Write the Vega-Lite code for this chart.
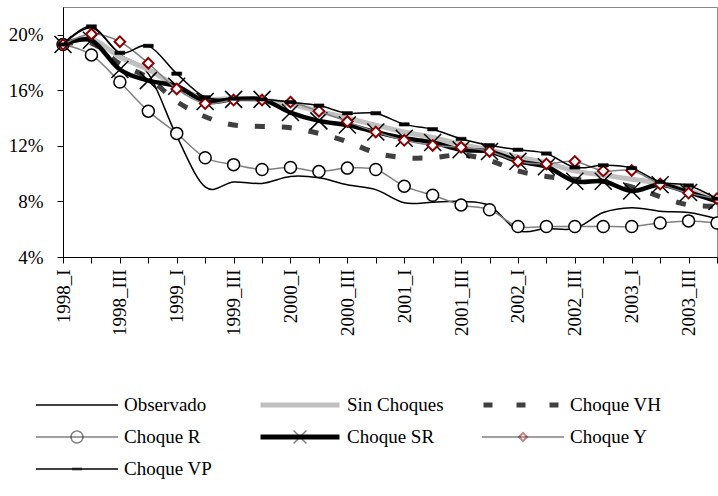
{
  "$schema": "https://vega.github.io/schema/vega-lite/v6.json",
  "width": 654,
  "height": 250,
  "autosize": {"type": "none"},
  "padding": {"left": 63, "top": 7, "right": 1, "bottom": 239},
  "config": {
    "view": {"stroke": "#888888", "strokeWidth": 1},
    "font": "Liberation Serif",
    "legend": {
      "title": null, "orient": "none", "direction": "horizontal", "legendX": -28, "legendY": 388,
      "columns": 3, "gridAlign": "all", "columnPadding": 37, "rowPadding": 12, "clipHeight": 20, "padding": 0,
      "symbolOffset": 0, "labelOffset": 5, "labelFont": "Liberation Serif",
      "labelFontSize": 19, "labelColor": "#000000", "labelLimit": 300
    }
  },
  "datasets": {
    "rows": [
      {"q":"1998_I","s":"Observado","v":19.3},{"q":"1998_II","s":"Observado","v":20.5},{"q":"1998_III","s":"Observado","v":18.6},{"q":"1998_IV","s":"Observado","v":17.2},
      {"q":"1999_I","s":"Observado","v":12.7},{"q":"1999_II","s":"Observado","v":9.05},{"q":"1999_III","s":"Observado","v":9.4},{"q":"1999_IV","s":"Observado","v":9.3},
      {"q":"2000_I","s":"Observado","v":9.8},{"q":"2000_II","s":"Observado","v":9.7},{"q":"2000_III","s":"Observado","v":9.2},{"q":"2000_IV","s":"Observado","v":8.85},
      {"q":"2001_I","s":"Observado","v":7.9},{"q":"2001_II","s":"Observado","v":7.95},{"q":"2001_III","s":"Observado","v":8.0},{"q":"2001_IV","s":"Observado","v":7.7},
      {"q":"2002_I","s":"Observado","v":5.9},{"q":"2002_II","s":"Observado","v":6.05},{"q":"2002_III","s":"Observado","v":6.05},{"q":"2002_IV","s":"Observado","v":7.2},
      {"q":"2003_I","s":"Observado","v":7.55},{"q":"2003_II","s":"Observado","v":7.3},{"q":"2003_III","s":"Observado","v":7.2},{"q":"2003_IV","s":"Observado","v":6.75},

      {"q":"1998_I","s":"Sin Choques","v":19.3},{"q":"1998_II","s":"Sin Choques","v":19.7},{"q":"1998_III","s":"Sin Choques","v":18.4},{"q":"1998_IV","s":"Sin Choques","v":17.5},
      {"q":"1999_I","s":"Sin Choques","v":16.3},{"q":"1999_II","s":"Sin Choques","v":15.4},{"q":"1999_III","s":"Sin Choques","v":15.4},{"q":"1999_IV","s":"Sin Choques","v":15.3},
      {"q":"2000_I","s":"Sin Choques","v":15.0},{"q":"2000_II","s":"Sin Choques","v":14.5},{"q":"2000_III","s":"Sin Choques","v":14.0},{"q":"2000_IV","s":"Sin Choques","v":13.5},
      {"q":"2001_I","s":"Sin Choques","v":13.0},{"q":"2001_II","s":"Sin Choques","v":12.6},{"q":"2001_III","s":"Sin Choques","v":12.1},{"q":"2001_IV","s":"Sin Choques","v":11.7},
      {"q":"2002_I","s":"Sin Choques","v":11.2},{"q":"2002_II","s":"Sin Choques","v":10.8},{"q":"2002_III","s":"Sin Choques","v":10.2},{"q":"2002_IV","s":"Sin Choques","v":9.9},
      {"q":"2003_I","s":"Sin Choques","v":9.6},{"q":"2003_II","s":"Sin Choques","v":9.3},{"q":"2003_III","s":"Sin Choques","v":8.8},{"q":"2003_IV","s":"Sin Choques","v":8.1},

      {"q":"1998_I","s":"Choque VH","v":19.3},{"q":"1998_II","s":"Choque VH","v":19.4},{"q":"1998_III","s":"Choque VH","v":17.9},{"q":"1998_IV","s":"Choque VH","v":16.9},
      {"q":"1999_I","s":"Choque VH","v":15.2},{"q":"1999_II","s":"Choque VH","v":14.1},{"q":"1999_III","s":"Choque VH","v":13.5},{"q":"1999_IV","s":"Choque VH","v":13.4},
      {"q":"2000_I","s":"Choque VH","v":13.3},{"q":"2000_II","s":"Choque VH","v":12.9},{"q":"2000_III","s":"Choque VH","v":12.3},{"q":"2000_IV","s":"Choque VH","v":11.5},
      {"q":"2001_I","s":"Choque VH","v":11.15},{"q":"2001_II","s":"Choque VH","v":11.15},{"q":"2001_III","s":"Choque VH","v":11.35},{"q":"2001_IV","s":"Choque VH","v":10.95},
      {"q":"2002_I","s":"Choque VH","v":10.2},{"q":"2002_II","s":"Choque VH","v":9.8},{"q":"2002_III","s":"Choque VH","v":9.6},{"q":"2002_IV","s":"Choque VH","v":9.45},
      {"q":"2003_I","s":"Choque VH","v":9.05},{"q":"2003_II","s":"Choque VH","v":8.35},{"q":"2003_III","s":"Choque VH","v":7.75},{"q":"2003_IV","s":"Choque VH","v":7.65},

      {"q":"1998_I","s":"Choque R","v":19.3},{"q":"1998_II","s":"Choque R","v":18.55},{"q":"1998_III","s":"Choque R","v":16.6},{"q":"1998_IV","s":"Choque R","v":14.5},
      {"q":"1999_I","s":"Choque R","v":12.9},{"q":"1999_II","s":"Choque R","v":11.15},{"q":"1999_III","s":"Choque R","v":10.65},{"q":"1999_IV","s":"Choque R","v":10.3},
      {"q":"2000_I","s":"Choque R","v":10.45},{"q":"2000_II","s":"Choque R","v":10.15},{"q":"2000_III","s":"Choque R","v":10.4},{"q":"2000_IV","s":"Choque R","v":10.3},
      {"q":"2001_I","s":"Choque R","v":9.1},{"q":"2001_II","s":"Choque R","v":8.45},{"q":"2001_III","s":"Choque R","v":7.75},{"q":"2001_IV","s":"Choque R","v":7.4},
      {"q":"2002_I","s":"Choque R","v":6.2},{"q":"2002_II","s":"Choque R","v":6.2},{"q":"2002_III","s":"Choque R","v":6.2},{"q":"2002_IV","s":"Choque R","v":6.2},
      {"q":"2003_I","s":"Choque R","v":6.2},{"q":"2003_II","s":"Choque R","v":6.45},{"q":"2003_III","s":"Choque R","v":6.6},{"q":"2003_IV","s":"Choque R","v":6.45},

      {"q":"1998_I","s":"Choque SR","v":19.3},{"q":"1998_II","s":"Choque SR","v":19.6},{"q":"1998_III","s":"Choque SR","v":17.5},{"q":"1998_IV","s":"Choque SR","v":16.7},
      {"q":"1999_I","s":"Choque SR","v":16.3},{"q":"1999_II","s":"Choque SR","v":15.2},{"q":"1999_III","s":"Choque SR","v":15.35},{"q":"1999_IV","s":"Choque SR","v":15.35},
      {"q":"2000_I","s":"Choque SR","v":14.4},{"q":"2000_II","s":"Choque SR","v":13.8},{"q":"2000_III","s":"Choque SR","v":13.5},{"q":"2000_IV","s":"Choque SR","v":13.0},
      {"q":"2001_I","s":"Choque SR","v":12.55},{"q":"2001_II","s":"Choque SR","v":12.25},{"q":"2001_III","s":"Choque SR","v":11.72},{"q":"2001_IV","s":"Choque SR","v":11.6},
      {"q":"2002_I","s":"Choque SR","v":10.9},{"q":"2002_II","s":"Choque SR","v":10.5},{"q":"2002_III","s":"Choque SR","v":9.45},{"q":"2002_IV","s":"Choque SR","v":9.45},
      {"q":"2003_I","s":"Choque SR","v":8.75},{"q":"2003_II","s":"Choque SR","v":9.2},{"q":"2003_III","s":"Choque SR","v":8.65},{"q":"2003_IV","s":"Choque SR","v":8.0},

      {"q":"1998_I","s":"Choque Y","v":19.3},{"q":"1998_II","s":"Choque Y","v":20.05},{"q":"1998_III","s":"Choque Y","v":19.5},{"q":"1998_IV","s":"Choque Y","v":17.95},
      {"q":"1999_I","s":"Choque Y","v":16.1},{"q":"1999_II","s":"Choque Y","v":15.05},{"q":"1999_III","s":"Choque Y","v":15.3},{"q":"1999_IV","s":"Choque Y","v":15.3},
      {"q":"2000_I","s":"Choque Y","v":15.15},{"q":"2000_II","s":"Choque Y","v":14.5},{"q":"2000_III","s":"Choque Y","v":13.75},{"q":"2000_IV","s":"Choque Y","v":13.0},
      {"q":"2001_I","s":"Choque Y","v":12.4},{"q":"2001_II","s":"Choque Y","v":12.03},{"q":"2001_III","s":"Choque Y","v":11.9},{"q":"2001_IV","s":"Choque Y","v":11.6},
      {"q":"2002_I","s":"Choque Y","v":10.88},{"q":"2002_II","s":"Choque Y","v":10.7},{"q":"2002_III","s":"Choque Y","v":10.88},{"q":"2002_IV","s":"Choque Y","v":10.2},
      {"q":"2003_I","s":"Choque Y","v":10.23},{"q":"2003_II","s":"Choque Y","v":9.25},{"q":"2003_III","s":"Choque Y","v":8.6},{"q":"2003_IV","s":"Choque Y","v":8.2},

      {"q":"1998_I","s":"Choque VP","v":19.3},{"q":"1998_II","s":"Choque VP","v":20.6},{"q":"1998_III","s":"Choque VP","v":18.7},{"q":"1998_IV","s":"Choque VP","v":19.2},
      {"q":"1999_I","s":"Choque VP","v":17.2},{"q":"1999_II","s":"Choque VP","v":15.5},{"q":"1999_III","s":"Choque VP","v":15.4},{"q":"1999_IV","s":"Choque VP","v":15.35},
      {"q":"2000_I","s":"Choque VP","v":15.15},{"q":"2000_II","s":"Choque VP","v":14.9},{"q":"2000_III","s":"Choque VP","v":14.35},{"q":"2000_IV","s":"Choque VP","v":14.35},
      {"q":"2001_I","s":"Choque VP","v":13.55},{"q":"2001_II","s":"Choque VP","v":13.2},{"q":"2001_III","s":"Choque VP","v":12.5},{"q":"2001_IV","s":"Choque VP","v":12.05},
      {"q":"2002_I","s":"Choque VP","v":11.72},{"q":"2002_II","s":"Choque VP","v":11.45},{"q":"2002_III","s":"Choque VP","v":10.45},{"q":"2002_IV","s":"Choque VP","v":10.6},
      {"q":"2003_I","s":"Choque VP","v":10.4},{"q":"2003_II","s":"Choque VP","v":9.4},{"q":"2003_III","s":"Choque VP","v":9.15},{"q":"2003_IV","s":"Choque VP","v":8.2}
    ]
  },
  "data": {"name": "rows"},
  "encoding": {
    "x": {
      "field": "q", "type": "ordinal",
      "scale": {"type": "point", "padding": 0, "domain": ["1998_I","1998_II","1998_III","1998_IV","1999_I","1999_II","1999_III","1999_IV","2000_I","2000_II","2000_III","2000_IV","2001_I","2001_II","2001_III","2001_IV","2002_I","2002_II","2002_III","2002_IV","2003_I","2003_II","2003_III","2003_IV"]},
      "axis": {
        "title": null, "grid": false, "labelAngle": -90, "labelOverlap": false,
        "labelExpr": "test(/_(I|III)$/, datum.value) ? datum.value : ''",
        "labelFont": "Liberation Serif", "labelFontSize": 19, "labelColor": "#000000",
        "tickSize": 6, "tickColor": "#000000", "domainColor": "#000000", "labelPadding": 6,
        "encode": {"ticks": {"update": {"y": {"value": -6}}}}
      }
    },
    "y": {
      "field": "v", "type": "quantitative",
      "scale": {"domain": [4, 22], "nice": false, "zero": false},
      "axis": {
        "title": null, "grid": false, "values": [4, 8, 12, 16, 20],
        "labelExpr": "datum.value + '%'",
        "labelFont": "Liberation Serif", "labelFontSize": 19, "labelColor": "#000000",
        "tickSize": 6, "tickColor": "#000000", "domainColor": "#000000", "labelPadding": 14,
        "encode": {"ticks": {"update": {"x": {"value": 6}}}}
      }
    }
  },
  "layer": [
    {"transform": [{"filter": "datum.s === 'Observado'"}], "mark": {"type": "line", "color": "#000000", "strokeWidth": 1.5, "interpolate": "cardinal"}},
    {"transform": [{"filter": "datum.s === 'Sin Choques'"}], "mark": {"type": "line", "color": "#c0c0c0", "strokeWidth": 5, "interpolate": "cardinal"}},
    {"transform": [{"filter": "datum.s === 'Choque VH'"}], "mark": {"type": "line", "color": "#404040", "strokeWidth": 5, "strokeDash": [10, 17], "interpolate": "cardinal"}},
    {"transform": [{"filter": "datum.s === 'Choque R'"}], "mark": {"type": "line", "color": "#808080", "strokeWidth": 1.5, "interpolate": "cardinal"}},
    {"transform": [{"filter": "datum.s === 'Choque R'"}], "mark": {"type": "point", "shape": "M0.141,0A0.141,0.141,0,1,1,-0.141,0A0.141,0.141,0,1,1,0.141,0Z", "size": 7225, "filled": false, "fill": "#ffffff", "stroke": "#000000", "strokeWidth": 1.5, "opacity": 1}},
    {"transform": [{"filter": "datum.s === 'Choque SR'"}], "mark": {"type": "line", "color": "#000000", "strokeWidth": 4.5, "interpolate": "cardinal"}},
    {"transform": [{"filter": "datum.s === 'Choque SR'"}], "mark": {"type": "point", "shape": "M-0.2,-0.2L0.2,0.2M-0.2,0.2L0.2,-0.2", "size": 7225, "filled": false, "stroke": "#000000", "strokeWidth": 1.5, "opacity": 1}},
    {"transform": [{"filter": "datum.s === 'Choque Y'"}], "mark": {"type": "line", "color": "#808080", "strokeWidth": 1.5, "interpolate": "cardinal"}},
    {"transform": [{"filter": "datum.s === 'Choque Y'"}], "mark": {"type": "point", "shape": "M0,-0.125L0.125,0L0,0.125L-0.125,0Z", "size": 7225, "filled": false, "fill": "#ffffff", "stroke": "#8b0000", "strokeWidth": 2, "opacity": 1}},
    {"transform": [{"filter": "datum.s === 'Choque VP'"}], "mark": {"type": "line", "color": "#000000", "strokeWidth": 1.5, "interpolate": "cardinal"}},
    {"transform": [{"filter": "datum.s === 'Choque VP'"}], "mark": {"type": "point", "shape": "M-0.118,-0.04H0.118V0.04H-0.118Z", "size": 7225, "filled": true, "fill": "#000000", "stroke": "#000000", "strokeWidth": 0.5, "opacity": 1}},
    {
      "transform": [{"filter": "false"}],
      "mark": {"type": "line", "strokeWidth": 1.5},
      "encoding": {
        "color": {
          "field": "s", "type": "nominal",
          "scale": {"domain": ["Observado","Sin Choques","Choque VH","Choque R","Choque SR","Choque Y","Choque VP"], "range": ["#000000","transparent","transparent","#808080","transparent","#808080","#000000"]},
          "legend": {"symbolType": "stroke", "symbolSize": 6724, "symbolStrokeWidth": 1.5}
        }
      }
    },
    {
      "transform": [{"filter": "false"}],
      "mark": {"type": "point", "filled": true, "strokeWidth": 0},
      "encoding": {
        "shape": {
          "field": "s", "type": "nominal",
          "scale": {
            "domain": ["Choque VP","Choque Y","Choque SR","Choque R","Choque VH","Sin Choques","Observado"],
            "range": [
              "M-0.118,-0.038H0.118V0.038H-0.118Z",
              "M0,-0.13L0.13,0L0,0.13L-0.13,0ZM0,-0.063L-0.063,0L0,0.063L0.063,0Z",
              "M-0.141,-0.167L0.167,0.141L0.141,0.167L-0.167,-0.141ZM-0.141,0.167L0.167,-0.141L0.141,-0.167L-0.167,0.141Z",
              "M0.16,0A0.16,0.16,0,1,1,-0.16,0A0.16,0.16,0,1,1,0.16,0ZM0.124,0A0.124,0.124,0,1,0,-0.124,0A0.124,0.124,0,1,0,0.124,0Z",
              "M0,0L0,0", "M0,0L0,0", "M0,0L0,0"
            ]
          },
          "legend": {"values": ["Observado","Sin Choques","Choque VH","Choque R","Choque SR","Choque Y","Choque VP"], "symbolSize": 7056, "symbolStrokeWidth": 0, "labelOpacity": 0}
        },
        "fill": {
          "field": "s", "type": "nominal",
          "scale": {
            "domain": ["Choque VP","Choque Y","Choque SR","Choque R","Choque VH","Sin Choques","Observado"],
            "range": ["#000000","#8b0000","#000000","#000000","transparent","transparent","transparent"]
          },
          "legend": {"values": ["Observado","Sin Choques","Choque VH","Choque R","Choque SR","Choque Y","Choque VP"], "symbolSize": 7056, "symbolStrokeWidth": 0, "labelOpacity": 0}
        }
      }
    },
    {
      "transform": [{"filter": "false"}],
      "mark": {"type": "line", "strokeWidth": 5},
      "encoding": {
        "stroke": {
          "field": "s", "type": "nominal",
          "scale": {"domain": ["Choque VH","Sin Choques","Observado","Choque R","Choque SR","Choque Y","Choque VP"], "range": ["#404040","#c0c0c0","transparent","transparent","#000000","transparent","transparent"]},
          "legend": {"values": ["Observado","Sin Choques","Choque VH","Choque R","Choque SR","Choque Y","Choque VP"], "symbolType": "stroke", "symbolSize": 6241, "symbolStrokeWidth": 5, "labelOpacity": 0}
        },
        "strokeDash": {
          "field": "s", "type": "nominal",
          "scale": {"domain": ["Choque VH","Sin Choques","Observado","Choque R","Choque SR","Choque Y","Choque VP"], "range": [[9, 24], [1, 0], [1, 0], [1, 0], [1, 0], [1, 0], [1, 0]]},
          "legend": {"values": ["Observado","Sin Choques","Choque VH","Choque R","Choque SR","Choque Y","Choque VP"], "symbolType": "stroke", "symbolSize": 6241, "symbolStrokeWidth": 5, "labelOpacity": 0}
        }
      }
    }
  ]
}
